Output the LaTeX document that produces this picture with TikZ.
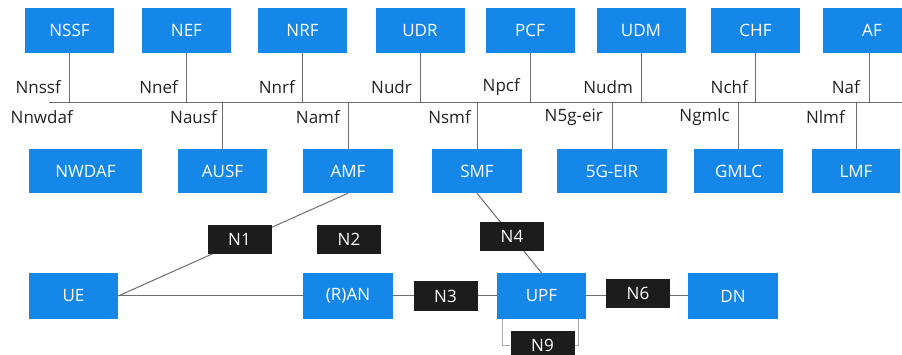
\documentclass[tikz,border=0pt]{standalone}
\usepackage{fontspec}
\setmainfont{Open Sans}
\definecolor{nfblue}{HTML}{1487E8}
\definecolor{refblack}{HTML}{1C1C1C}
\definecolor{lngray}{HTML}{6E6E6E}
\definecolor{lblgray}{HTML}{222222}
\pgfdeclarelayer{bg}
\pgfsetlayers{bg,main}
\tikzset{
  nf/.style={fill=nfblue, text=white, minimum width=89pt, minimum height=45pt, inner sep=0pt, font=\fontsize{17}{17}\selectfont},
  refpt/.style={fill=refblack, text=white, minimum width=64pt, minimum height=29pt, inner sep=0pt, font=\fontsize{17}{17}\selectfont},
  lbl/.style={text=lblgray, anchor=east, inner sep=0pt, font=\fontsize{17}{17}\selectfont},
  ln/.style={draw=lngray, line width=1pt},
  ln9/.style={draw=lngray!60, line width=1.2pt}
}
\begin{document}
\begin{tikzpicture}[x=1pt,y=-1pt]
\useasboundingbox (0,0) rectangle (902,355);
\begin{scope}
\clip (0,0) rectangle (902,355);
% top row
\node[nf] (NSSF) at (69.5,30.5) {NSSF};
\node[nf] (NEF) at (186.5,30.5) {NEF};
\node[nf] (NRF) at (302.5,30.5) {NRF};
\node[nf] (UDR) at (420,30.5) {UDR};
\node[nf] (PCF) at (530,30.5) {PCF};
\node[nf] (UDM) at (641,30.5) {UDM};
\node[nf] (CHF) at (755.5,30.5) {CHF};
\node[nf, minimum width=98pt] (AF) at (872,30.5) {AF};
% bus
\coordinate (busL) at (49,103);
\coordinate (busR) at (902,103);
% bottom NF row
\node[nf, minimum width=113pt, minimum height=44pt] (NWDAF) at (85.5,171) {NWDAF};
\node[nf, minimum height=44pt] (AUSF) at (222.5,171) {AUSF};
\node[nf, minimum width=90pt, minimum height=44pt] (AMF) at (348,171) {AMF};
\node[nf, minimum width=90pt, minimum height=44pt] (SMF) at (477,171) {SMF};
\node[nf, minimum width=110pt, minimum height=44pt] (EIR) at (612,171) {5G-EIR};
\node[nf, minimum height=44pt] (GMLC) at (738.5,171) {GMLC};
\node[nf, minimum width=88pt, minimum height=44pt] (LMF) at (856,171) {LMF};
% user plane row
\node[nf, minimum height=46pt] (UE) at (73.5,296) {UE};
\node[nf, minimum width=90pt, minimum height=46pt] (RAN) at (348,296) {(R)AN};
\node[nf, minimum height=46pt] (UPF) at (541.5,296) {UPF};
\node[nf, minimum width=90pt, minimum height=46pt] (DN) at (733,296) {DN};
% reference points
\node[refpt] (N1) at (239.5,239.5) {N1};
\node[refpt] (N2) at (349,239.5) {N2};
\node[refpt] (N3) at (445.5,296) {N3};
\node[refpt] (N4) at (512,236.5) {N4};
\node[refpt] (N6) at (638,293.5) {N6};
\node[refpt] (N9) at (542.5,345.5) {N9};
% interface labels above bus
\node[lbl] (lNnssf) at (61,87) {Nnssf};
\node[lbl] (lNnef) at (178,87) {Nnef};
\node[lbl] (lNnrf) at (295,87) {Nnrf};
\node[lbl] (lNudr) at (412,87) {Nudr};
\node[lbl] (lNpcf) at (520,87) {Npcf};
\node[lbl] (lNudm) at (633,87) {Nudm};
\node[lbl] (lNchf) at (748,87) {Nchf};
\node[lbl] (lNaf) at (860,87) {Naf};
% interface labels below bus
\node[lbl] (lNnwdaf) at (73,117) {Nnwdaf};
\node[lbl] (lNausf) at (217,117) {Nausf};
\node[lbl] (lNamf) at (340,117) {Namf};
\node[lbl] (lNsmf) at (471,117) {Nsmf};
\node[lbl] (lN5g) at (603,117) {N5g-eir};
\node[lbl] (lNgmlc) at (730,117) {Ngmlc};
\node[lbl] (lNlmf) at (845,117) {Nlmf};
\begin{pgfonlayer}{bg}
\draw[ln] (busL) -- (busR);
\foreach \n in {NSSF,NEF,NRF,UDR,PCF,UDM,CHF}
  \draw[ln] (\n.south) -- (\n.south |- busL);
\draw[ln] ([xshift=-3pt]AF.south) -- ([xshift=-3pt]AF.south |- busL);
\foreach \n in {AUSF,AMF,SMF,EIR,GMLC,LMF}
  \draw[ln] (\n.north) -- (\n.north |- busL);
\draw[ln] (UE.east) -- (AMF.south);
\draw[ln] (UE.east) -- (RAN.west);
\draw[ln] (RAN.east) -- (UPF.west);
\draw[ln] (SMF.south) -- (UPF.north);
\draw[ln] (UPF.east) -- (DN.west);
\draw[ln9] ([xshift=6pt]UPF.south west) |- (N9.west);
\draw[ln9] ([xshift=-8pt]UPF.south east) |- (N9.east);
\end{pgfonlayer}
\end{scope}
\end{tikzpicture}
\end{document}
